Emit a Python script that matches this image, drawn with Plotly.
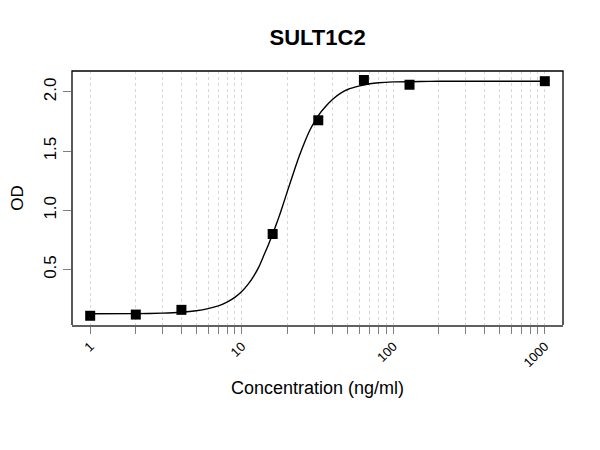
import plotly.graph_objects as go

# measured standards (concentration in ng/ml, optical density)
conc = [1, 2, 4, 16, 32, 64, 128, 1000]
od = [0.11, 0.12, 0.16, 0.80, 1.76, 2.10, 2.06, 2.09]

# fitted curve
curve_conc = [1, 2, 3, 4, 5, 6, 7, 8, 9, 10, 11, 12, 13, 14, 15, 16, 17, 18,
              20, 22, 24, 26, 28, 30, 32, 36, 40, 45, 50, 60, 70, 80, 100,
              150, 200, 300, 500, 1000]
curve_od = [0.127, 0.128, 0.132, 0.140, 0.152, 0.170, 0.193, 0.225, 0.265,
            0.315, 0.375, 0.445, 0.525, 0.620, 0.710, 0.800, 0.890, 0.980,
            1.160, 1.320, 1.460, 1.575, 1.670, 1.740, 1.800, 1.880, 1.940,
            1.990, 2.020, 2.050, 2.068, 2.077, 2.084, 2.088, 2.089, 2.090,
            2.090, 2.090]

# tick positions: every 1..9 per decade, labels only on decades
x_ticks = [1, 2, 3, 4, 5, 6, 7, 8, 9,
           10, 20, 30, 40, 50, 60, 70, 80, 90,
           100, 200, 300, 400, 500, 600, 700, 800, 900, 1000]
x_labels = ["1" if v == 1 else "10" if v == 10 else "100" if v == 100
            else "1000" if v == 1000 else "" for v in x_ticks]
y_ticks = [0.5, 1.0, 1.5, 2.0]
y_labels = ["0.5", "1.0", "1.5", "2.0"]

FONT = "Liberation Sans, Arial, sans-serif"

fig = go.Figure()

fig.add_trace(go.Scatter(
    x=curve_conc, y=curve_od,
    mode="lines",
    line=dict(color="black", width=1.4, shape="spline", smoothing=0.6),
    hoverinfo="skip",
    name="fit"
))

fig.add_trace(go.Scatter(
    x=conc, y=od,
    mode="markers",
    marker=dict(symbol="square", size=10, color="black"),
    name="standards"
))

# the page body has an 8px margin, so margins are trimmed to compensate
fig.update_layout(
    width=600, height=450,
    margin=dict(l=64, r=45, t=63, b=133),
    paper_bgcolor="white",
    plot_bgcolor="white",
    showlegend=False,
    font=dict(family=FONT, color="black"),
    title=dict(
        text="<b>SULT1C2</b>",
        x=0.516, xanchor="center",
        y=0.935, yanchor="middle",
        font=dict(size=22, family=FONT, color="black")
    ),
    # box on top/left/right in black, bottom is the grey axis line
    shapes=[dict(
        type="path", xref="paper", yref="paper",
        path="M 0 0 L 0 1 L 1 1 L 1 0",
        line=dict(color="black", width=1.3)
    )]
)

fig.update_xaxes(
    type="log",
    range=[-0.12, 3.12],
    tickmode="array",
    tickvals=x_ticks,
    ticktext=x_labels,
    tickangle=-45,
    tickfont=dict(size=13, family=FONT, color="black"),
    ticks="outside", ticklen=7, tickcolor="#808080", tickwidth=1,
    showline=True, linecolor="#606060", linewidth=1.5,
    showgrid=True, gridcolor="#d6d6d6", griddash="dot", gridwidth=1,
    zeroline=False,
    automargin=False,
    title=dict(text="Concentration (ng/ml)",
               font=dict(size=18, family=FONT, color="black"),
               standoff=12)
)

fig.update_yaxes(
    range=[0.032, 2.176],
    tickmode="array",
    tickvals=y_ticks,
    ticktext=y_labels,
    tickangle=-90,
    tickfont=dict(size=17, family=FONT, color="black"),
    ticks="outside", ticklen=8, tickcolor="#808080", tickwidth=1,
    ticklabelstandoff=0,
    showline=False,
    showgrid=False,
    zeroline=False,
    automargin=False,
    title=dict(text="OD",
               font=dict(size=17, family=FONT, color="black"),
               standoff=26)
)

fig.write_html("out.html")
